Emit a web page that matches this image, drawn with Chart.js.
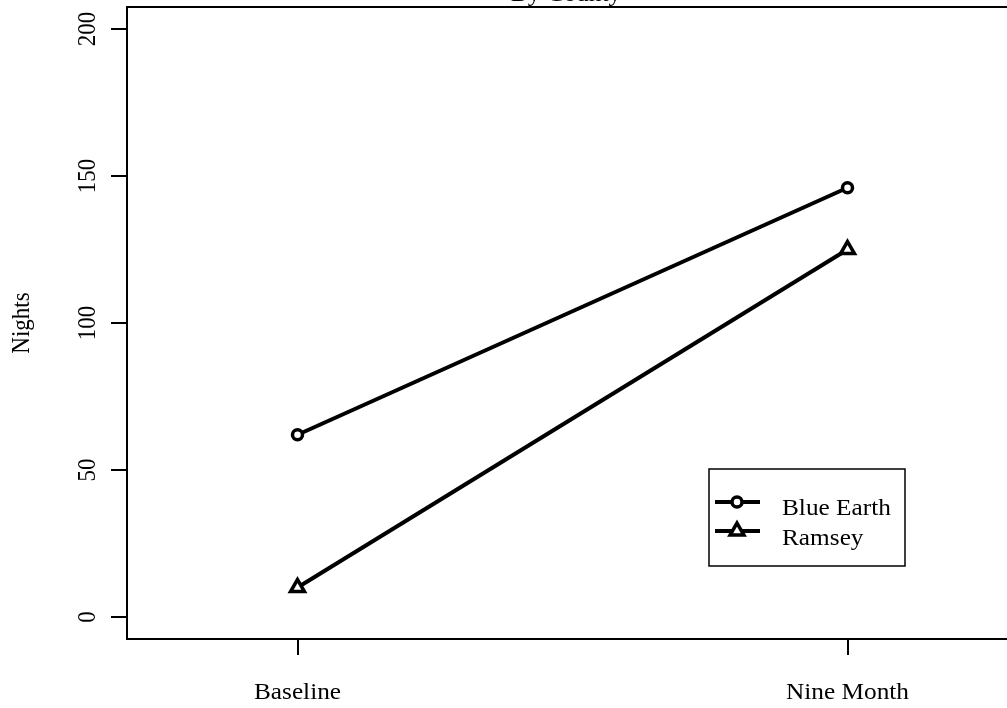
<!DOCTYPE html>
<html>
<head>
<meta charset="utf-8">
<script src="https://cdn.jsdelivr.net/npm/chart.js@4.4.1/dist/chart.umd.min.js"></script>
<style>
  html, body { margin: 0; padding: 0; background: #fff; overflow: hidden; }
  #wrap { width: 1007px; height: 708px; }
</style>
</head>
<body>
<div id="wrap"><canvas id="c" width="1007" height="708"></canvas></div>
<script>
// Nights per county at each time point
const timepoints = ['Baseline', 'Nine Month'];
const timeIndex = [1, 2];
const blueEarth = [62, 146];
const ramsey = [10, 125];
const seriesNames = ['Blue Earth', 'Ramsey'];
const yTicks = [0, 50, 100, 150, 200];
const chartTitle = 'By County';
const yTitle = 'Nights';

const SERIF = '"Liberation Serif", "DejaVu Serif", serif';
const FONT_SIZE = 23;
const TEXT_STRETCH = 1.1; // glyphs are a little wider than tall

function toPoints(values) {
  return timeIndex.map((x, i) => ({ x: x, y: values[i] }));
}

const datasets = [
  {
    label: seriesNames[0],
    data: toPoints(blueEarth),
    borderColor: '#000',
    borderWidth: 4,
    pointStyle: 'circle',
    pointRadius: 5,
    pointBorderWidth: 3.5,
    pointBackgroundColor: '#fff',
    pointBorderColor: '#000'
  },
  {
    label: seriesNames[1],
    data: toPoints(ramsey),
    borderColor: '#000',
    borderWidth: 4,
    pointStyle: 'triangle',
    pointRadius: 8,
    pointBorderWidth: 3.5,
    pointBackgroundColor: '#fff',
    pointBorderColor: '#000'
  }
];

function drawText(ctx, text, x, y, align, vertical) {
  ctx.save();
  ctx.translate(x, y);
  ctx.scale(TEXT_STRETCH, 1);
  if (vertical) ctx.rotate(-Math.PI / 2);
  ctx.textAlign = align;
  ctx.textBaseline = 'alphabetic';
  ctx.fillText(text, 0, 0);
  ctx.restore();
}

// Base-graphics style frame, labels and legend
const frame = {
  id: 'frame',
  afterDraw(chart) {
    const ctx = chart.ctx;
    const area = chart.chartArea;
    const xs = chart.scales.x;
    const ys = chart.scales.y;
    ctx.save();

    // top edge of the box
    ctx.strokeStyle = '#000';
    ctx.lineWidth = 2;
    ctx.beginPath();
    ctx.moveTo(area.left - 1, area.top);
    ctx.lineTo(area.right + 2, area.top);
    ctx.stroke();

    ctx.fillStyle = '#000';
    ctx.font = FONT_SIZE + 'px ' + SERIF;

    // y tick labels, written along the axis
    ys.ticks.forEach(t => {
      drawText(ctx, String(t.value), 95, ys.getPixelForValue(t.value), 'center', true);
    });

    // x tick labels
    xs.ticks.forEach((t, i) => {
      drawText(ctx, timepoints[i], xs.getPixelForValue(t.value), 699, 'center', false);
    });

    // y axis title
    drawText(ctx, yTitle, 29, (area.top + area.bottom) / 2, 'center', true);

    // title, partly above the page edge
    drawText(ctx, chartTitle, 566, 1, 'center', false);

    // legend
    const box = { x: 709, y: 469, w: 196, h: 97 };
    ctx.lineWidth = 1.5;
    ctx.strokeRect(box.x, box.y, box.w, box.h);
    const rows = [502, 531];
    const textBase = [515, 545];
    chart.data.datasets.forEach((ds, i) => {
      const ly = rows[i];
      ctx.strokeStyle = '#000';
      ctx.lineWidth = ds.borderWidth;
      ctx.beginPath();
      ctx.moveTo(715, ly);
      ctx.lineTo(760, ly);
      ctx.stroke();
      ctx.fillStyle = '#fff';
      ctx.lineWidth = ds.pointBorderWidth;
      Chart.helpers.drawPoint(ctx, {
        pointStyle: ds.pointStyle,
        radius: ds.pointRadius,
        borderWidth: ds.pointBorderWidth,
        rotation: 0
      }, 737, ly);
      ctx.fillStyle = '#000';
      drawText(ctx, ds.label, 782, textBase[i], 'left', false);
    });

    ctx.restore();
  }
};

new Chart(document.getElementById('c'), {
  type: 'line',
  data: { datasets: datasets },
  options: {
    responsive: false,
    animation: false,
    layout: { autoPadding: false, padding: { left: 111, top: 7, right: 0, bottom: 53 } },
    plugins: {
      legend: { display: false },
      tooltip: { enabled: false },
      title: { display: false }
    },
    scales: {
      x: {
        type: 'linear',
        min: 0.69,
        max: 2.29,
        afterBuildTicks: s => { s.ticks = timeIndex.map(v => ({ value: v })); },
        ticks: { display: false },
        grid: { drawOnChartArea: false, drawTicks: true, tickLength: 16, color: '#000', lineWidth: 2 },
        border: { display: true, color: '#000', width: 2 }
      },
      y: {
        type: 'linear',
        min: -7.5,
        max: 207.5,
        afterBuildTicks: s => { s.ticks = yTicks.map(v => ({ value: v })); },
        ticks: { display: false },
        grid: { drawOnChartArea: false, drawTicks: true, tickLength: 16, color: '#000', lineWidth: 2 },
        border: { display: true, color: '#000', width: 2 }
      }
    }
  },
  plugins: [frame]
});
</script>
</body>
</html>
